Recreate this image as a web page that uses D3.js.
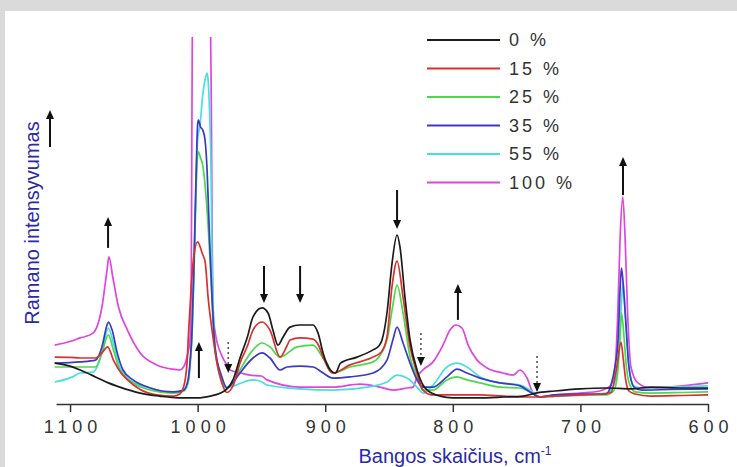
<!DOCTYPE html>
<html><head><meta charset="utf-8">
<script src="https://cdn.jsdelivr.net/npm/d3@7"></script>
<style>
html,body{margin:0;padding:0;background:#dadada;}
svg{display:block;}
text{font-family:"Liberation Sans",Arial,Helvetica,sans-serif;}
</style></head><body>
<svg id="chart" width="737" height="467"></svg>
<script>
// ---------- DATA ----------
const tickValues = [1100, 1000, 900, 800, 700, 600];
const seriesLabels = ["0 %", "15 %", "25 %", "35 %", "55 %", "100 %"];
const xTitle = "Bangos skaičius, cm";
const yTitle = "Ramano intensyvumas";

// [wavenumber (cm-1), intensity (a.u.)]
const s0 = [[1112,12.3],[1100,11.3],[1092,10],[1080,7.7],[1070,5.7],[1061,4.3],[1045,2.3],[1030,1.3],[1015,0.7],[1000,0.7],[990,1.3],[982,2.3],[977,3.7],[972,7],[966.8,14],[961,21],[956.6,27.7],[949.5,30.7],[944.8,29],[941,23.3],[937,18.3],[933,21],[927.6,24.3],[920,25],[909.6,25],[905.6,22.3],[901.7,15.7],[896,10],[892,9],[888,12.3],[875,14.3],[862.5,16.7],[858,18],[855.5,20],[851.6,29],[847.6,45.7],[843.7,55],[841.4,51],[837.5,34.3],[833.5,20],[828,10],[823.4,5],[820,3.3],[810,1.3],[800,0.7],[780,0.7],[760,1],[745,1.3],[735,2.3],[720,3],[700,3.7],[680,4],[660,3.7],[645,4.3],[620,4],[600,4]];
const s15 = [[1112,14.3],[1100,14.2],[1092,14],[1080,14],[1075,15.7],[1070.5,17.7],[1066,13.3],[1060,9],[1055,6.7],[1045,3.5],[1032,1.7],[1019,1.3],[1014,2],[1011,4.3],[1008.3,12.3],[1007,23.3],[1005.5,34.3],[1003.6,45.7],[1000,52.7],[996.5,49],[994,45.7],[991.8,34.3],[988.7,23.3],[984.8,12.3],[981,5.7],[977,2.5],[972,5],[966.8,12.3],[961,18],[956.6,23.3],[949.5,26],[943.3,23.3],[935.4,14.3],[930,18],[927.6,20],[919.7,20.7],[909.6,20.3],[905,18],[901.7,14.3],[894,9],[880.6,11.7],[862.5,14.3],[856,16],[851.6,21],[847.6,38],[843.7,46.3],[839,34.3],[833.5,17.7],[828,9],[823.4,3.3],[816,1.7],[800,1.7],[780,1.7],[760,1.3],[745,1],[735,1],[720,1.3],[700,1.7],[685,2],[676,2.5],[671.5,11],[668.2,19.3],[666.5,14],[664.5,6.7],[662,3],[657,2],[645,1.3],[620,1.5],[600,1.7]];
const s25 = [[1112,11],[1092,11],[1080,11],[1075,15.7],[1070,21.7],[1066,16.7],[1061,10],[1050.6,5.7],[1037,3.3],[1019,2.3],[1011,3],[1007.5,6],[1006,11.7],[1004.4,21.7],[1002.8,43.3],[1001.3,68.3],[1000,81.7],[999.4,82.7],[997.7,80.7],[996,78.3],[994.2,71.7],[992.6,63.3],[991.8,58.3],[990.3,46.7],[988.7,33.3],[986.4,17.3],[981,6.7],[977,4],[972,6],[966.8,10],[956.6,16.7],[949.5,19],[943.3,17.7],[935.4,14.3],[922,17.7],[909.6,18.3],[901.7,14],[898.6,12.3],[894,9],[880.6,11],[862.5,12.7],[851.6,20],[847.6,30],[843.7,38.3],[839,29],[833.5,14.3],[828,7.7],[823.4,3.3],[815.5,3.3],[804.6,6.7],[796.7,7.7],[788.9,6.7],[778.7,5.7],[763,4.3],[747.3,4],[739.5,2.7],[731.7,1],[720,1.3],[700,1.7],[680,1.7],[674,3],[670.8,9],[668.8,22],[667.8,29],[666,22],[664.2,12],[661.8,5.7],[657,2.7],[645,2.3],[620,2.5],[600,2.7]];
const s35 = [[1112,12.3],[1092,12.7],[1080,13.3],[1075,17.7],[1071,25],[1070,26],[1067,23.3],[1063,15.7],[1058.5,10],[1050.6,6.7],[1037,4],[1019,2.7],[1011,3.3],[1007.5,6.7],[1006,12.3],[1004.4,23.3],[1002.8,46.7],[1001.3,73.3],[1000,91.7],[999.4,93.3],[997.7,91],[996,90],[994.2,86.7],[992.6,76.7],[991.8,67.7],[990.3,50],[988.7,34.3],[986.4,17.7],[981,7.7],[977,4],[972,6],[966.8,9],[956.6,14],[949.5,15.7],[943.3,14],[935.4,10],[930,11],[919.7,11.3],[909.6,11],[901.7,9],[894,7.3],[880.6,7.7],[862.5,9],[851.6,13.3],[847,20],[843.7,24.3],[839,19],[833.5,12.3],[828,6.7],[823.4,4.3],[815.5,4.3],[804.6,7.7],[796.7,10.3],[788.9,9],[778.7,7.3],[763,5.7],[747.3,4.7],[739.5,2.7],[731.7,1],[720,1.7],[700,2],[680,2],[676,5],[673,11],[670.5,20],[668.8,38],[667.8,44],[666,36],[664.3,25],[662,11],[658,4.3],[652,3.3],[630,3.5],[600,3.7]];
const s55 = [[1112,6],[1098,7.7],[1092,9],[1082,9.3],[1075,15.7],[1070,24],[1066,19],[1061,11],[1050.6,6],[1037,4],[1019,2.3],[1011,3],[1007.5,5.7],[1006,11],[1004.4,21.7],[1002.8,45],[1001.3,71.7],[1000,86.7],[998.1,91.7],[996,101.7],[994.2,106.7],[992.6,109],[991.8,106.7],[990.7,96.7],[989.5,76.7],[988.7,45.7],[987.9,33.3],[986.4,17.7],[982.4,7.7],[978.5,4.3],[974.6,4.3],[966.8,5.5],[956.6,6.7],[949.5,6],[945.6,5],[919.7,3.7],[894,3.3],[867,4.3],[851.6,6],[843.7,8.3],[835.9,7.3],[828,4.3],[823.4,2.3],[815.5,5],[804.6,11],[796.7,12.3],[788.9,11],[778.7,7.7],[763,5.7],[747.3,5],[739.5,3.3],[731.7,1],[720,1.3],[700,1.5],[680,2],[675,4],[671.5,9],[669.3,20],[667.5,35],[666.6,39],[665,30],[663.7,22],[661.3,9],[658,4.7],[652,4],[630,4.3],[600,4.7]];
const s100 = [[1112,18.3],[1100,19.5],[1092,20.7],[1082,22.3],[1075,31],[1071,43.3],[1069.5,47.7],[1066.5,41],[1062,31],[1055,23.3],[1045,15.7],[1032,11.7],[1020,10.3],[1014,10],[1011,11],[1008,15],[1006,20],[1005,40],[1004.4,100],[1003.8,150],[1000,200],[995,200],[991,160],[990,130],[989.3,100],[988.7,60],[988,30],[986.4,23],[981,14.7],[977,11.7],[974.6,10],[966,9],[959,8.3],[950,8],[945.6,6.7],[919.7,4.3],[894,4.3],[872.7,5.3],[857,4.3],[846.9,3.3],[835.9,4],[831.2,4.3],[828,7.7],[823.4,10],[815.5,12.7],[807.7,18.3],[802.2,23.3],[797.5,25],[792.8,24],[788,18.3],[781,13.3],[773.2,10.7],[760.7,9],[752.8,8.3],[747.3,10],[741.8,7.3],[737.1,2.3],[731.7,1],[720,1.7],[700,2.3],[685,3],[676,5],[672.8,11],[670.8,27.7],[668.8,55],[666.8,67.7],[664.8,52],[662.9,27.7],[660.4,11],[655,5.7],[645,4],[620,4.7],[600,5.7]];

// annotation arrows: wavenumber, start intensity, tip intensity, dotted?
const arrowW    = [1070.2, 999, 976, 948, 919.7, 843.7, 825, 796, 734, 666.6];
const arrowFrom = [50.7, 7.3, 19.3, 44.7, 44.7, 70, 22.3, 26.7, 14.7, 68.3];
const arrowTo   = [61, 19.3, 9, 32.3, 32.3, 57, 11.3, 38.7, 2.7, 81];
const arrowDot  = [false, false, true, false, false, false, true, false, true, false];

// ---------- CHART ----------
const W = 737, H = 467;
const svg = d3.select("#chart");
const FONT = '"Liberation Sans", Arial, Helvetica, sans-serif';

svg.append("rect").attr("width", W).attr("height", H).attr("fill", "#dadada");
svg.append("rect").attr("x", 5).attr("y", 11).attr("width", W - 5).attr("height", H - 11).attr("fill", "#ffffff");

const x = d3.scaleLinear().domain([1111, 600]).range([56, 708]);
const y = d3.scaleLinear().domain([0, 120]).range([400, 40]);

svg.append("defs").append("clipPath").attr("id", "plotclip")
  .append("rect").attr("x", 50).attr("y", 37).attr("width", 665).attr("height", 367);

const colors = {
  "0 %": "#1c1c1c", "15 %": "#d93030", "25 %": "#4cd94c",
  "35 %": "#3a3ac4", "55 %": "#46e0e0", "100 %": "#e045e0"
};
const seriesData = { "0 %": s0, "15 %": s15, "25 %": s25, "35 %": s35, "55 %": s55, "100 %": s100 };
const drawOrder = ["100 %", "55 %", "25 %", "35 %", "15 %", "0 %"];

const line = d3.line().x(d => x(d[0])).y(d => y(d[1])).curve(d3.curveMonotoneX);

const plot = svg.append("g").attr("clip-path", "url(#plotclip)");
drawOrder.forEach(k => {
  plot.append("path").datum(seriesData[k])
    .attr("d", line).attr("fill", "none")
    .attr("stroke", colors[k]).attr("stroke-width", 1.7)
    .attr("stroke-linejoin", "round");
});

// axis
const xAxis = d3.axisBottom(x).tickValues(tickValues).tickSize(8).tickPadding(8)
  .tickSizeOuter(0).tickFormat(d3.format("d"));
const gx = svg.append("g").attr("transform", "translate(0,404)").call(xAxis)
  .attr("font-family", FONT).attr("font-size", 18);
gx.select(".domain").attr("stroke", "#333").attr("stroke-width", 1.5);
gx.selectAll(".tick line").attr("stroke", "#333").attr("stroke-width", 1.5);
gx.selectAll(".tick text").attr("fill", "#333").attr("letter-spacing", "5px").attr("dx", "2.5px");

// axis titles
const xt = svg.append("text").attr("x", 455).attr("y", 463).attr("text-anchor", "middle")
  .attr("font-size", 20).attr("fill", "#2a2aa8").attr("font-family", FONT).text(xTitle);
xt.append("tspan").attr("font-size", 12).attr("dy", -8).text("-1");

svg.append("text").attr("transform", "translate(39,223) rotate(-90)")
  .attr("text-anchor", "middle").attr("font-size", 20).attr("fill", "#2a2aa8")
  .attr("font-family", FONT).text(yTitle);

function drawArrow(g, cx, y0, y1, dotted) {
  const up = y1 < y0;
  const hl = 9, hw = 4;
  const shaftEnd = up ? y1 + hl - 1 : y1 - hl + 1;
  g.append("line").attr("x1", cx).attr("x2", cx).attr("y1", y0).attr("y2", shaftEnd)
    .attr("stroke", dotted ? "#555" : "#111").attr("stroke-width", dotted ? 1.6 : 2)
    .attr("stroke-dasharray", dotted ? "2,3" : null);
  const b = up ? y1 + hl : y1 - hl;
  g.append("path").attr("d", `M${cx},${y1}L${cx - hw},${b}L${cx + hw},${b}Z`)
    .attr("fill", "#111");
}
const ann = svg.append("g");
drawArrow(ann, 50, 147, 110, false);   // arrow beside the y title
arrowW.forEach((w, i) => drawArrow(ann, x(w), y(arrowFrom[i]), y(arrowTo[i]), arrowDot[i]));

// legend
const legend = svg.append("g");
seriesLabels.forEach((lab, i) => {
  const ly = 40 + i * 28.5;
  legend.append("line").attr("x1", 427).attr("x2", 500).attr("y1", ly).attr("y2", ly)
    .attr("stroke", colors[lab]).attr("stroke-width", 2);
  legend.append("text").attr("x", 509).attr("y", ly).attr("dy", "0.35em")
    .attr("font-size", 18).attr("fill", "#333").attr("letter-spacing", "3px")
    .attr("font-family", FONT).text(lab);
});
</script>
</body></html>
